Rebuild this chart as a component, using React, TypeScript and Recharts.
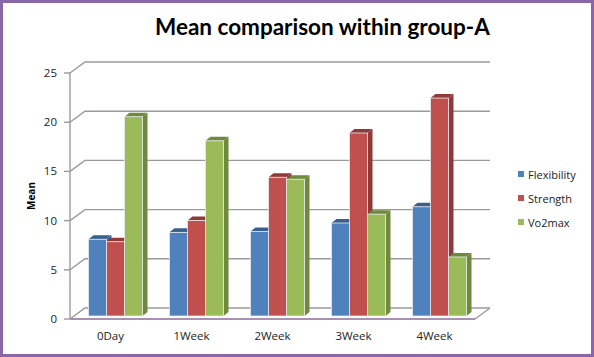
import * as React from "react"
import { BarChart, Bar, XAxis, YAxis, CartesianGrid, Legend } from "recharts"

const categories = ["0Day", "1Week", "2Week", "3Week", "4Week"]
const flexibility = [7.8, 8.5, 8.6, 9.45, 11.1]
const strength = [7.55, 9.7, 14.1, 18.6, 22.15]
const vo2max = [20.25, 17.8, 13.9, 10.35, 6.0]
const yTicks = [0, 5, 10, 15, 20, 25]

const data = categories.map((name, i) => ({
  name,
  Flexibility: flexibility[i],
  Strength: strength[i],
  Vo2max: vo2max[i],
}))

const FONT = "'Open Sans', sans-serif"
const GRID = "#9c98a0"
const DEPTH_X = 15
const DEPTH_Y = 11

const sideColors: Record<string, string> = {
  "#4f81bd": "#3a5f8c",
  "#c0504d": "#8e3a38",
  "#9bbb59": "#6f8a3c",
}

// front face plus top and side faces, nudged off the axis plane
const Bar3D = (props: any) => {
  const { x, y, width, height, fill } = props
  const dark = sideColors[fill]
  const dx = 5
  const dy = 4
  const left = x + 4.5
  const right = left + width
  const top = y - 3
  const bottom = top + height
  return (
    <g>
      <polygon points={`${right},${top} ${right + dx},${top - dy} ${right + dx},${bottom - dy} ${right},${bottom}`} fill={dark} />
      <polygon points={`${left},${top} ${left + dx},${top - dy} ${right + dx},${top - dy} ${right},${top}`} fill={dark} />
      <rect x={left} y={top} width={width} height={height} fill={fill} stroke="#e6eaf0" strokeWidth={0.8} />
    </g>
  )
}

// wall line: short diagonal from the axis then along the back
const gridLine = (props: any) => {
  const { x1, x2, y1, index } = props
  const isFloor = y1 > 310
  return (
    <g key={`wall-${index}`} fill="none" stroke={GRID} strokeWidth={1.4}>
      <polyline points={`${x1},${y1} ${x1 + DEPTH_X},${y1 - DEPTH_Y} ${x2 + DEPTH_X},${y1 - DEPTH_Y}`} />
      {isFloor && <line x1={x2} y1={y1} x2={x2 + DEPTH_X} y2={y1 - DEPTH_Y} />}
    </g>
  )
}

const LegendList = ({ payload }: any) => (
  <div style={{ fontFamily: FONT, fontSize: 11, color: "#222" }}>
    {(payload || []).map((item: any) => (
      <div key={item.value} style={{ display: "flex", alignItems: "center", height: 24 }}>
        <span style={{ width: 6, height: 6, background: item.color, marginRight: 4 }} />
        {item.value}
      </div>
    ))}
  </div>
)

export default function App() {
  return (
    <div style={{ position: "absolute", left: 0, top: 0, width: 594, height: 357, background: "#fff" }}>
      <style>{"body{margin:0}"}</style>
      <BarChart
        width={594}
        height={357}
        data={data}
        margin={{ top: 73, right: 49, bottom: 0, left: 0 }}
        barCategoryGap={14}
        barGap={0}
      >
        <CartesianGrid vertical={false} horizontal={gridLine} />
        <XAxis
          dataKey="name"
          height={38}
          tickLine={false}
          axisLine={{ stroke: "#a890b0", strokeWidth: 2 }}
          tick={{ fontFamily: FONT, fontSize: 11.5, fill: "#222" }}
          tickMargin={7}
          interval={0}
        />
        <YAxis
          width={70}
          domain={[0, 25]}
          ticks={yTicks}
          tickSize={6}
          tickMargin={7}
          axisLine={{ stroke: GRID, strokeWidth: 1.4 }}
          tickLine={{ stroke: GRID, strokeWidth: 1.4 }}
          tick={{ fontFamily: FONT, fontSize: 11.5, fill: "#222" }}
          label={{
            value: "Mean",
            angle: -90,
            position: "insideLeft",
            offset: 31,
            style: { fontFamily: FONT, fontSize: 10, fontWeight: 700, fill: "#000", textAnchor: "middle" },
          }}
        />
        <Legend
          layout="vertical"
          align="right"
          verticalAlign="top"
          content={<LegendList />}
          wrapperStyle={{ left: 518, top: 162, width: 70, right: "auto" }}
        />
        <Bar dataKey="Flexibility" fill="#4f81bd" shape={<Bar3D />} isAnimationActive={false} />
        <Bar dataKey="Strength" fill="#c0504d" shape={<Bar3D />} isAnimationActive={false} />
        <Bar dataKey="Vo2max" fill="#9bbb59" shape={<Bar3D />} isAnimationActive={false} />
      </BarChart>
      <div
        style={{
          position: "absolute",
          left: 155,
          top: 12,
          fontFamily: "Lato, sans-serif",
          fontWeight: 700,
          fontSize: 22.5,
          lineHeight: "30px",
          color: "#000",
          whiteSpace: "nowrap",
        }}
      >
        Mean comparison within group-A
      </div>
      <div
        style={{
          position: "absolute",
          inset: 0,
          border: "3px solid #8a68a8",
          boxSizing: "border-box",
          pointerEvents: "none",
        }}
      />
    </div>
  )
}
